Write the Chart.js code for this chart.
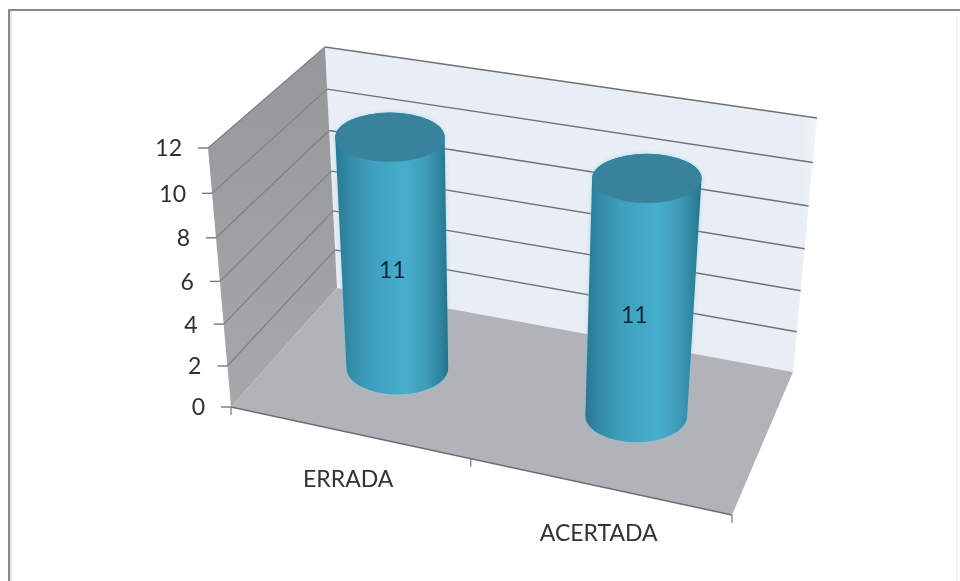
<!DOCTYPE html>
<html>
<head>
<meta charset="utf-8">
<title>ERRADA / ACERTADA</title>
<script src="https://cdn.jsdelivr.net/npm/chart.js@4"></script>
<style>
  html, body { margin: 0; padding: 0; background: #fff; }
  #box { width: 960px; height: 581px; }
</style>
</head>
<body>
<div id="box"><canvas id="grafico" width="960" height="581"></canvas></div>
<script>
// datos del grafico
var categorias = ["ERRADA", "ACERTADA"];
var valores = [11, 11];
var marcasY = [0, 2, 4, 6, 8, 10, 12];

// esquinas de la caja 3D (pixeles de la imagen)
var caja = {
  a: [231, 407], b: [732, 515], c: [337, 288], d: [793, 372],
  g: [208, 148], h: [752, 240], e: [325, 47], f: [817, 118]
};
var fuente = "Lato, 'Open Sans', sans-serif";
// ajuste horizontal de cada etiqueta de dato
var ajusteEtiqueta = [0, -6];

function mezcla(p, q, t) {
  return [p[0] + (q[0] - p[0]) * t, p[1] + (q[1] - p[1]) * t];
}

// proyeccion: x 0..1 (izq-der), y 0..1 (altura), z 0..1 (frente-fondo)
function proyecta(x, y, z) {
  var gx = x * (0.914 + 0.086 * x);
  var gy = y * (0.94 + 0.06 * y);
  var abajo = mezcla(mezcla(caja.a, caja.b, gx), mezcla(caja.c, caja.d, gx), z);
  var arriba = mezcla(mezcla(caja.g, caja.h, gx), mezcla(caja.e, caja.f, gx), z);
  return mezcla(abajo, arriba, gy);
}

function poligono(ctx, puntos, color) {
  ctx.beginPath();
  ctx.moveTo(puntos[0][0], puntos[0][1]);
  for (var i = 1; i < puntos.length; i++) ctx.lineTo(puntos[i][0], puntos[i][1]);
  ctx.closePath();
  ctx.fillStyle = color;
  ctx.fill();
}

function linea(ctx, p, q, color, ancho) {
  ctx.beginPath();
  ctx.moveTo(p[0], p[1]);
  ctx.lineTo(q[0], q[1]);
  ctx.strokeStyle = color;
  ctx.lineWidth = ancho;
  ctx.stroke();
}

function fracciones(chart, el) {
  var area = chart.chartArea;
  return {
    x: (el.x - area.left) / area.width,
    y: (area.bottom - el.y) / area.height,
    r: el.width / area.width / 2
  };
}

function cilindro(ctx, f) {
  var z = 0.515;
  var base = proyecta(f.x, 0, z);
  var tope = proyecta(f.x, f.y, z);
  var rxBase = (proyecta(1, 0, z)[0] - proyecta(0, 0, z)[0]) * f.r;
  var rxTope = (proyecta(1, f.y, z)[0] - proyecta(0, f.y, z)[0]) * f.r;
  var ryBase = rxBase * 0.52;
  var ryTope = rxTope * 0.45;

  // halo claro alrededor del cilindro
  ctx.save();
  ctx.shadowColor = "rgba(130,205,230,0.55)";
  ctx.shadowBlur = 5;
  ctx.beginPath();
  ctx.moveTo(tope[0] - rxTope, tope[1]);
  ctx.ellipse(tope[0], tope[1], rxTope, ryTope, 0, Math.PI, 0, false);
  ctx.lineTo(base[0] + rxBase, base[1]);
  ctx.ellipse(base[0], base[1], rxBase, ryBase, 0, 0, Math.PI, false);
  ctx.closePath();

  var izq = Math.min(base[0] - rxBase, tope[0] - rxTope);
  var der = Math.max(base[0] + rxBase, tope[0] + rxTope);
  var grad = ctx.createLinearGradient(izq, 0, der, 0);
  grad.addColorStop(0, "#2a7792");
  grad.addColorStop(0.12, "#338aa6");
  grad.addColorStop(0.3, "#3d9fbd");
  grad.addColorStop(0.62, "#46aecc");
  grad.addColorStop(0.82, "#3d9ab6");
  grad.addColorStop(0.95, "#2c7f99");
  grad.addColorStop(1, "#277089");
  ctx.fillStyle = grad;
  ctx.fill();
  ctx.restore();

  // tapa superior
  ctx.beginPath();
  ctx.ellipse(tope[0], tope[1], rxTope, ryTope, 0, 0, Math.PI * 2);
  ctx.fillStyle = "#38829c";
  ctx.fill();
}

var plugin3d = {
  id: "caja3d",
  beforeDatasetsDraw: function(chart) {
    var ctx = chart.ctx;
    var ey = chart.scales.y;
    var ex = chart.scales.x;
    var alto = ey.bottom - ey.top;

    // marco exterior
    ctx.fillStyle = "#8a8a8a";
    ctx.fillRect(8, 9, 952, 2);
    ctx.fillRect(8, 9, 2, 572);
    ctx.fillStyle = "#e4e4e4";
    ctx.fillRect(10, 11, 2, 570);
    ctx.fillStyle = "#f3f3f3";
    ctx.fillRect(956, 17, 2, 564);

    // paredes y suelo
    var fondo = ctx.createLinearGradient(700, 0, 820, 0);
    fondo.addColorStop(0, "#e9eef4");
    fondo.addColorStop(0.85, "#e9eef4");
    fondo.addColorStop(1, "#f3f5f8");
    poligono(ctx, [proyecta(0, 1, 1), proyecta(1, 1, 1), proyecta(1, 0, 1), proyecta(0, 0, 1)], fondo);
    var lateral = ctx.createLinearGradient(0, 47, 0, 407);
    lateral.addColorStop(0, "#96979b");
    lateral.addColorStop(1, "#a6a8ac");
    poligono(ctx, [proyecta(0, 1, 0), proyecta(0, 1, 1), proyecta(0, 0, 1), proyecta(0, 0, 0)], lateral);
    poligono(ctx, [proyecta(0, 0, 0), proyecta(1, 0, 0), proyecta(1, 0, 1), proyecta(0, 0, 1)], "#b1b3b8");

    // rejilla y etiquetas del eje Y
    ctx.font = "23px " + fuente;
    ctx.textBaseline = "middle";
    ctx.textAlign = "right";
    marcasY.forEach(function(v) {
      var t = (ey.bottom - ey.getPixelForValue(v)) / alto;
      var frente = proyecta(0, t, 0);
      var atras = proyecta(0, t, 1);
      if (v > 0) {
        linea(ctx, atras, proyecta(1, t, 1), "#6f7175", 1.4);
        linea(ctx, frente, atras, "#7e8084", 1.2);
      }
      linea(ctx, [frente[0] - 10, frente[1]], frente, "#77797d", 1.4);
      ctx.fillStyle = "#2f2f2f";
      ctx.fillText(String(v), frente[0] - 26, frente[1] + 1);
    });

    // borde frontal del suelo con sus marcas
    linea(ctx, proyecta(0, 0, 0), proyecta(1, 0, 0), "#6c6e73", 1.4);
    [0, 0.5, 1].forEach(function(x) {
      var p = proyecta(x, 0, 0);
      linea(ctx, p, [p[0], p[1] + 8], "#77797d", 1.2);
    });

    // etiquetas de categoria
    ctx.textAlign = "center";
    categorias.forEach(function(nombre, i) {
      var x = (ex.getPixelForValue(i) - ex.left) / (ex.right - ex.left);
      var p = proyecta(x, 0, 0);
      ctx.fillStyle = "#333333";
      ctx.fillText(nombre, p[0], p[1] + 47);
    });
  },
  // el cilindro sustituye a la barra plana
  beforeDatasetDraw: function(chart, args) {
    var ctx = chart.ctx;
    var meta = chart.getDatasetMeta(args.index);
    meta.data.forEach(function(el, i) {
      var f = fracciones(chart, el);
      cilindro(ctx, f);
      var p = proyecta(f.x, f.y / 2, 0.5);
      ctx.font = "23px " + fuente;
      ctx.textAlign = "center";
      ctx.textBaseline = "middle";
      ctx.fillStyle = "#12263a";
      ctx.fillText(String(valores[i]), p[0] + ajusteEtiqueta[i], p[1] + 13);
    });
    return false;
  }
};

var ctx = document.getElementById("grafico").getContext("2d");
var grafico = new Chart(ctx, {
  type: "bar",
  data: {
    labels: categorias,
    datasets: [{
      label: "Serie",
      data: valores,
      backgroundColor: "#46aecc",
      barPercentage: 0.426,
      categoryPercentage: 1
    }]
  },
  options: {
    responsive: false,
    animation: false,
    layout: { padding: { left: 231, right: 228, top: 148, bottom: 174 } },
    plugins: { legend: { display: false }, tooltip: { enabled: false } },
    scales: {
      x: { display: false },
      y: { display: false, min: 0, max: 12, ticks: { stepSize: 2 } }
    }
  },
  plugins: [plugin3d]
});
</script>
</body>
</html>
